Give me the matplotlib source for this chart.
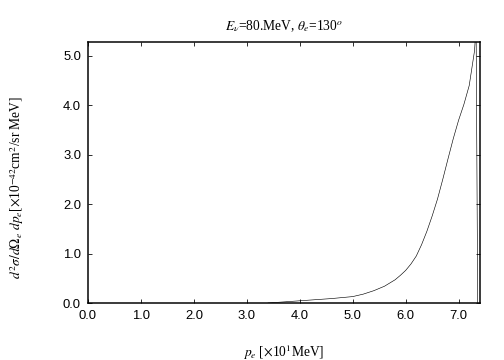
import numpy as np
import matplotlib
matplotlib.use("Agg")
import matplotlib.pyplot as plt

plt.rcParams['mathtext.fontset'] = 'stix'

# electron momentum [x10 MeV] and cross section [x1e-42 cm^2/sr MeV]
p_e = [3.4, 3.8, 4.2, 4.6, 5.0, 5.2, 5.4, 5.6, 5.8, 5.9, 6.0, 6.1, 6.2,
       6.3, 6.4, 6.5, 6.6, 6.7, 6.8, 6.9, 7.0, 7.1, 7.2, 7.3, 7.33, 7.36]
xsec = [0.0, 0.03, 0.06, 0.09, 0.13, 0.18, 0.25, 0.34, 0.47, 0.56, 0.66,
        0.79, 0.95, 1.18, 1.45, 1.76, 2.1, 2.5, 2.92, 3.33, 3.7, 4.02,
        4.4, 5.1, 5.6, 0.0]

xticks = [0.0, 1.0, 2.0, 3.0, 4.0, 5.0, 6.0, 7.0]
yticks = [0.0, 1.0, 2.0, 3.0, 4.0, 5.0]

fig = plt.figure(figsize=(7, 5), dpi=72)
ax = fig.add_axes([0.1746, 0.1583, 0.7774, 0.725])

ax.plot(p_e, xsec, color='black', lw=0.6)
ax.set_xlim(0, 7.4)
ax.set_ylim(0, 5.28)
ax.set_xticks(xticks)
ax.set_yticks(yticks)
ax.set_xticklabels(["%.1f" % t for t in xticks], fontsize=13, family='Liberation Sans')
ax.set_yticklabels(["%.1f" % t for t in yticks], fontsize=13, family='Liberation Sans')
ax.tick_params(direction='in', top=True, right=True, length=4, width=0.8, pad=7)
for s in ax.spines.values():
    s.set_linewidth(1.5)

ax.set_title(r'$E_\nu$=80.MeV, $\theta_e$=130$^o$', fontsize=13.5,
             family='Liberation Serif', pad=12)
ax.set_xlabel(r'$p_e$ [$\times$10$^1$MeV]', fontsize=13.5,
              family='Liberation Serif', labelpad=20)
ax.set_ylabel(r'$d^2\sigma/d\Omega_e\ dp_e$[$\times$10$^{-42}$cm$^2$/sr MeV]',
              fontsize=13.5, family='Liberation Serif')
ax.yaxis.set_label_coords(-0.158, 0.444)

fig.savefig('out.png', dpi=72)
